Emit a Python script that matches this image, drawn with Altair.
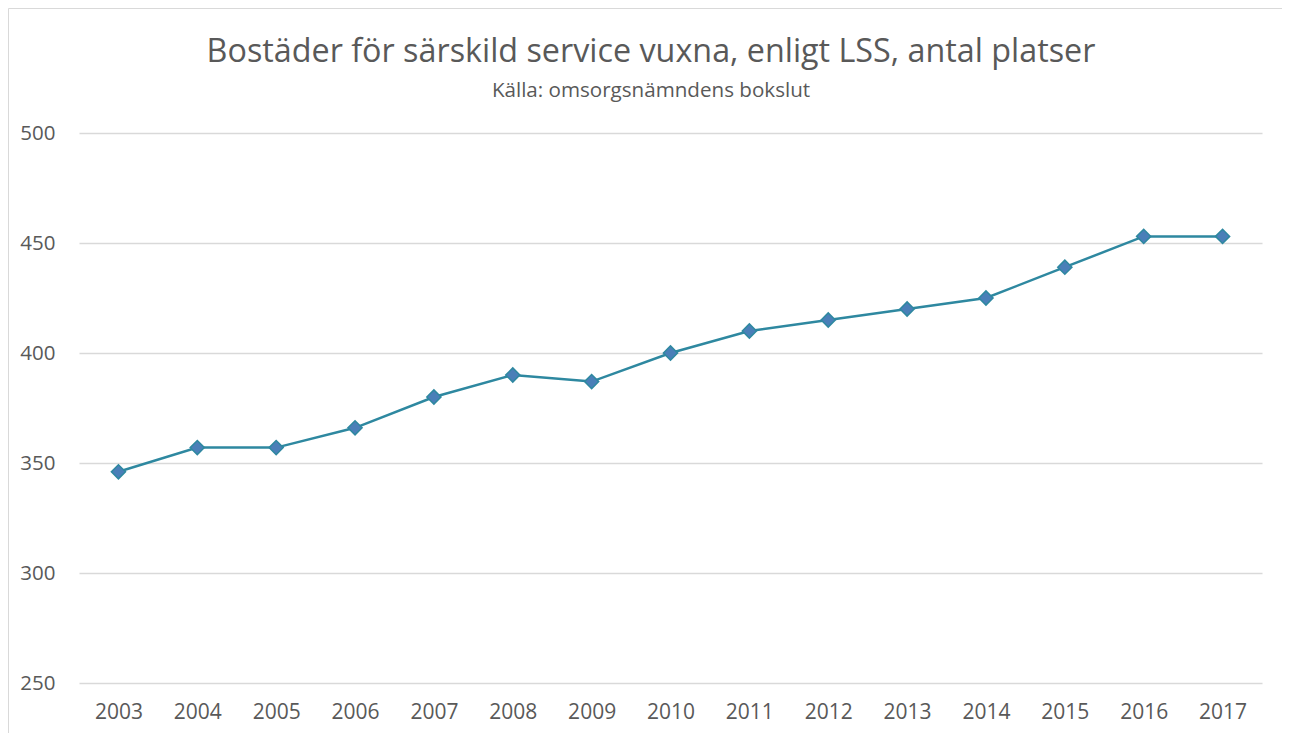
import altair as alt
import pandas as pd

years = ["2003", "2004", "2005", "2006", "2007", "2008", "2009", "2010",
         "2011", "2012", "2013", "2014", "2015", "2016", "2017"]
platser = [346, 357, 357, 366, 380, 390, 387, 400, 410, 415, 420, 425, 439, 453, 453]
y_ticks = [250, 300, 350, 400, 450, 500]
title_text = ["Bostäder för särskild service vuxna, enligt LSS, antal platser"]
subtitle_text = ["Källa: omsorgsnämndens bokslut"]

df = pd.DataFrame({"year": years, "platser": platser})

FONT = "Open Sans"
LINE = "#2e88a0"
FILL = "#4a7fb8"
TXT = "#595959"

x = alt.X("year:O", sort=years, title=None,
          scale=alt.Scale(type="point", padding=0.5),
          axis=alt.Axis(labelAngle=0, ticks=False, domain=False, grid=False,
                        labelFontSize=21, labelColor=TXT, labelFont=FONT,
                        labelPadding=18))
y = alt.Y("platser:Q", title=None,
          scale=alt.Scale(domain=[250, 500], nice=False, zero=False),
          axis=alt.Axis(values=y_ticks, ticks=False, domain=False,
                        gridColor="#d9d9d9", gridWidth=1.5,
                        labelFontSize=20.5, labelColor=TXT, labelFont=FONT,
                        labelPadding=24))

base = alt.Chart(df).encode(x=x, y=y)
line = base.mark_line(color=LINE, strokeWidth=2.5)
pts = base.mark_point(shape="diamond", filled=True, fill=FILL, stroke=LINE,
                      strokeWidth=1.5, size=200, opacity=1)

border = alt.Chart(pd.DataFrame({"a": [0]})).mark_rect(
    fill=None, stroke="#d9d9d9", strokeWidth=1
).encode(x=alt.value(-70.5), x2=alt.value(1204), y=alt.value(-124.5), y2=alt.value(640))

title = alt.Chart(pd.DataFrame({"t": title_text})).mark_text(
    font=FONT, fontSize=32.3, color=TXT, align="center", baseline="alphabetic"
).encode(text="t:N", x=alt.value(572), y=alt.value(-71))

subtitle = alt.Chart(pd.DataFrame({"t": subtitle_text})).mark_text(
    font=FONT, fontSize=20.6, color=TXT, align="center", baseline="alphabetic"
).encode(text="t:N", x=alt.value(572), y=alt.value(-36))

chart = alt.layer(border, title, subtitle, line, pts).properties(
    width=1183, height=550,
    padding={"left": 71, "top": 125, "right": 20, "bottom": 50},
    autosize=alt.AutoSizeParams(type="none"),
).configure_view(stroke=None)

chart.save("out.html", embed_options={"renderer": "svg", "actions": False})
